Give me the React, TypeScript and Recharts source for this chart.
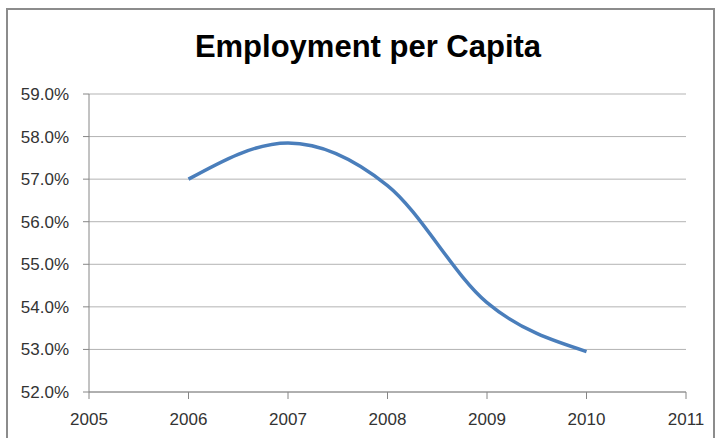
import { LineChart, Line, XAxis, YAxis, CartesianGrid } from "recharts";

const years = [2006, 2007, 2008, 2009, 2010];
const employment = [57.0, 57.85, 56.85, 54.1, 52.95];
const xTicks = [2005, 2006, 2007, 2008, 2009, 2010, 2011];
const yTicks = [52, 53, 54, 55, 56, 57, 58, 59];

const data = years.map((year, i) => ({ year, value: employment[i] }));

const FONT = "'Liberation Sans', Arial, sans-serif";
const tickStyle = { fontSize: 17, fill: "#333", fontFamily: FONT };

export default function App() {
  return (
    <div
      style={{
        position: "absolute",
        left: 0,
        top: 0,
        width: 717,
        height: 438,
        overflow: "hidden",
        background: "#fff",
      }}
    >
      <div
        style={{
          position: "absolute",
          left: 6,
          top: 8,
          width: 709,
          height: 500,
          boxSizing: "border-box",
          border: "2px solid #8c8c8c",
        }}
      />
      <div
        style={{
          position: "absolute",
          left: 168,
          width: 400,
          top: 31,
          textAlign: "center",
          fontFamily: FONT,
          fontWeight: "bold",
          fontSize: 31,
          lineHeight: "31px",
          color: "#000",
        }}
      >
        Employment per Capita
      </div>
      <div style={{ position: "absolute", left: 0, top: 0 }}>
        <LineChart
          width={717}
          height={438}
          data={data}
          margin={{ top: 94, right: 31, bottom: 0, left: 0 }}
        >
          <CartesianGrid vertical={false} stroke="#b3b3b3" />
          <XAxis
            dataKey="year"
            type="number"
            domain={[2005, 2011]}
            ticks={xTicks}
            height={46}
            tickSize={7}
            tickMargin={14}
            stroke="#868686"
            tick={tickStyle}
            interval={0}
          />
          <YAxis
            type="number"
            domain={[52, 59]}
            ticks={yTicks}
            width={89}
            tickSize={6}
            tickMargin={14}
            stroke="#868686"
            tick={tickStyle}
            interval={0}
            tickFormatter={(v: number) => v.toFixed(1) + "%"}
          />
          <Line
            type="monotone"
            dataKey="value"
            stroke="#4a7ebb"
            strokeWidth={3.5}
            dot={false}
            isAnimationActive={false}
          />
        </LineChart>
      </div>
    </div>
  );
}
